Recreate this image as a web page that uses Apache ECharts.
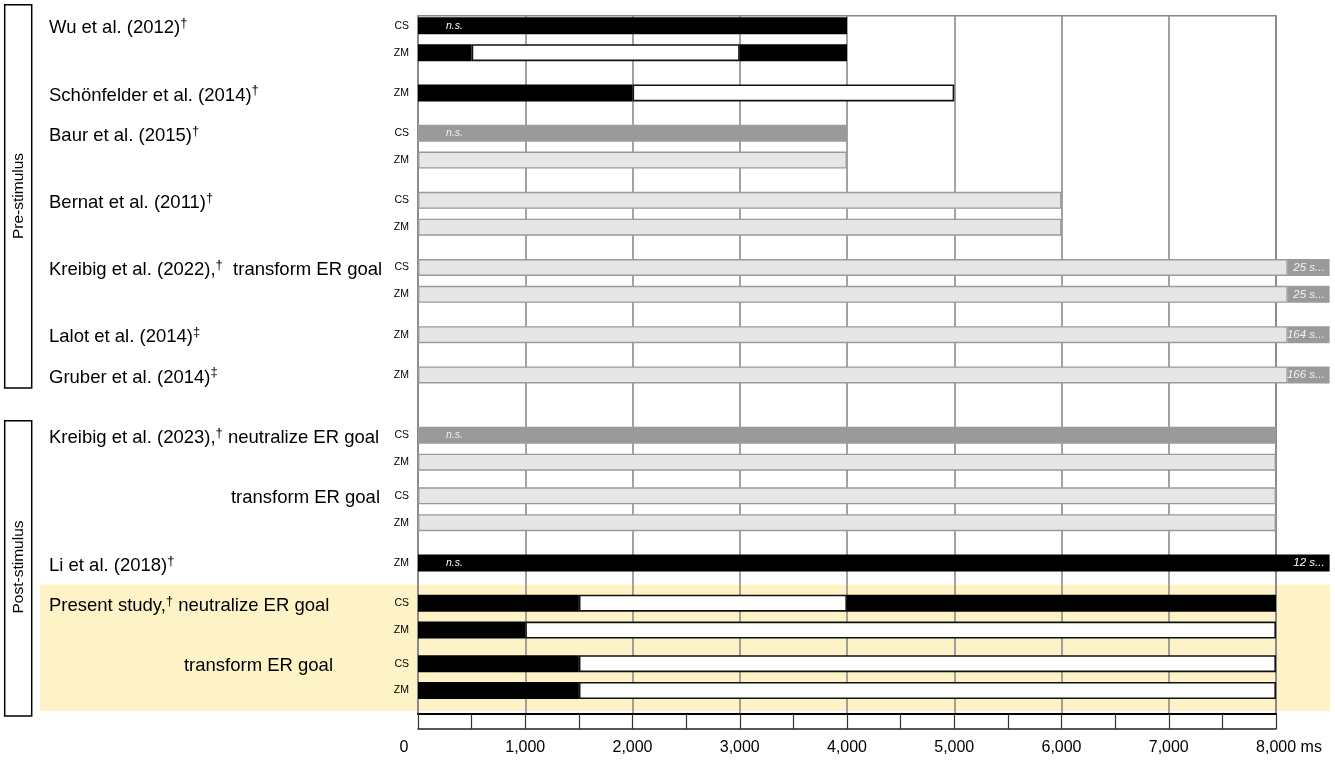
<!DOCTYPE html>
<html><head><meta charset="utf-8">
<script src="https://cdn.jsdelivr.net/npm/echarts@6/dist/echarts.min.js"></script>
<style>html,body{margin:0;padding:0;background:#fff}#c{width:1335px;height:761px}</style>
</head><body><div id="c"></div>
<script>
// ---------- data ----------
const xTicks = [0, 1000, 2000, 3000, 4000, 5000, 6000, 7000, 8000];
const condLabels = ['CS','ZM','ZM','CS','ZM','CS','ZM','CS','ZM','ZM','ZM','CS','ZM','CS','ZM','ZM','CS','ZM','CS','ZM'];
const rowStudy = ['Wu et al. (2012)','','Schönfelder et al. (2014)','Baur et al. (2015)','','Bernat et al. (2011)','','Kreibig et al. (2022),','','Lalot et al. (2014)','Gruber et al. (2014)','Kreibig et al. (2023),','','','','Li et al. (2018)','Present study,','','',''];
const rowMark = ['†','','†','†','','†','','†','','‡','‡','†','','','','†','†','','',''];
const rowGoal = ['','','','','','','','  transform ER goal','','','',' neutralize ER goal','','transform ER goal','','',' neutralize ER goal','','transform ER goal',''];
// segment end points (ms) and kinds per row
const segEnds = [
  [4000], [500, 3000, 4000], [2000, 5000], [4000], [4000], [6000], [6000],
  [8110, 8500], [8110, 8500], [8110, 8500], [8110, 8500],
  [8000], [8000], [8000], [8000], [8000, 8500],
  [1500, 4000, 8000], [1000, 8000], [1500, 8000], [1500, 8000]
];
const segKinds = [
  ['sig'], ['sig','non','sig'], ['sig','non'], ['ns'], ['na'], ['na'], ['na'],
  ['na','over'], ['na','over'], ['na','over'], ['na','over'],
  ['ns'], ['na'], ['na'], ['na'], ['sig','sig'],
  ['sig','non','sig'], ['sig','non'], ['sig','non'], ['sig','non']
];
const notes = ['n.s.','','','n.s.','','','','','','','','n.s.','','','','n.s.','','','',''];
const tails = ['','','','','','','','25 s...','25 s...','164 s...','166 s...','','','','','12 s...','','','',''];

// ---------- layout ----------
const FONT = '"Liberation Sans", Arial, Helvetica, sans-serif';
const N_SLOTS = 104;
const rowSlots = [0,4,10,16,20,26,30,36,40,46,52,61,65,70,74,80,86,90,95,99].map(s => s + 1);
const cats = Array.from({length: N_SLOTS}, (_, i) => 's' + i);
const slotRow = new Array(N_SLOTS).fill(-1);
rowSlots.forEach((s, r) => { slotRow[s] = r; });
const goalStyleOf = {13: 'gk', 18: 'gp'};

const KIND_STYLE = {
  sig:  {color: '#000000', borderWidth: 0},
  non:  {color: '#ffffff', borderColor: '#111111', borderWidth: 1.6},
  ns:   {color: '#9a9a9a', borderWidth: 0},
  na:   {color: '#e6e6e6', borderColor: '#9a9a9a', borderWidth: 1.4},
  over: {color: '#9a9a9a', borderWidth: 0}
};

const maxSeg = Math.max(...segEnds.map(e => e.length));
const series = [];
for (let k = 0; k < maxSeg; k++) {
  const data = cats.map((c, s) => {
    const r = slotRow[s];
    if (r < 0 || k >= segEnds[r].length) return '-';
    const start = k === 0 ? 0 : segEnds[r][k - 1];
    const kind = segKinds[r][k];
    const item = {value: segEnds[r][k] - start, itemStyle: KIND_STYLE[kind]};
    const light = kind === 'ns' || kind === 'over';
    if (k === 0 && notes[r]) {
      item.label = {show: true, formatter: notes[r], position: [28, '50%'], align: 'left', verticalAlign: 'middle',
        fontSize: 10.5, fontStyle: 'italic', color: light ? '#f2f2f2' : '#ffffff', fontFamily: FONT};
    }
    if (k === segEnds[r].length - 1 && tails[r]) {
      item.label = {show: true, formatter: tails[r], position: 'insideRight', distance: 5,
        fontSize: 11.5, fontStyle: 'italic', color: light ? '#f2f2f2' : '#ffffff', fontFamily: FONT};
    }
    return item;
  });
  series.push({type: 'bar', stack: 'seg', barWidth: 17, clip: false, silent: true, animation: false, data});
}

function fmt(v) { return String(v).replace(/\B(?=(\d{3})+(?!\d))/g, ','); }

const tStyle = {fontSize: 18.5, fontFamily: FONT, color: '#000', lineHeight: 22};
const option = {
  animation: false,
  grid: {left: 418, right: 59, top: 15.7, bottom: 47, show: true, borderColor: '#858585', borderWidth: 1.5, backgroundColor: 'transparent'},
  xAxis: [
    {type: 'value', min: xTicks[0], max: xTicks[xTicks.length - 1], interval: 1000,
      axisLine: {show: true, onZero: false, lineStyle: {color: '#000', width: 2}},
      axisTick: {show: false},
      splitLine: {show: true, lineStyle: {color: '#858585', width: 1.5}},
      axisLabel: {margin: 26, fontSize: 16, color: '#000', fontFamily: FONT,
        formatter: v => v === xTicks[xTicks.length - 1] ? '{p| }' + fmt(v) + ' ms' : (v === 0 ? '0{q| }' : fmt(v)),
        rich: {p: {width: 26, fontSize: 16}, q: {width: 28, fontSize: 16}}}},
    {type: 'value', min: 0, max: 8000, interval: 500, position: 'bottom', offset: 15,
      axisLine: {show: true, onZero: false, lineStyle: {color: '#222', width: 1.5}},
      axisTick: {show: true, inside: true, length: 15, lineStyle: {color: '#333', width: 1.2}},
      axisLabel: {show: false}, splitLine: {show: false}}
  ],
  yAxis: [
    {type: 'category', data: cats, inverse: true,
      axisLine: {show: false}, axisTick: {show: false}, splitLine: {show: false},
      axisLabel: {interval: 0, margin: 9, fontSize: 10.5, color: '#000', fontFamily: FONT,
        formatter: (v, i) => slotRow[i] >= 0 ? condLabels[slotRow[i]] : ''}},
    {type: 'category', data: cats, inverse: true, position: 'left',
      axisLine: {show: false}, axisTick: {show: false}, splitLine: {show: false},
      axisLabel: {interval: 0, margin: 369, align: 'left', padding: [5, 0, 0, 0],
        formatter: (v, i) => {
          const r = slotRow[i];
          if (r < 0) return '';
          if (!rowStudy[r]) return rowGoal[r] ? '{' + goalStyleOf[r] + '|' + rowGoal[r] + '}' : '';
          let s = '{t|' + rowStudy[r] + '}';
          if (rowMark[r]) s += '{d|' + rowMark[r] + '}';
          if (rowGoal[r]) s += '{t|' + rowGoal[r] + '}';
          return s;
        },
        rich: {
          t: tStyle,
          d: {fontSize: 13, fontFamily: FONT, color: '#000', lineHeight: 13, verticalAlign: 'top'},
          gk: Object.assign({}, tStyle, {width: 331, align: 'right'}),
          gp: Object.assign({}, tStyle, {width: 284, align: 'right'})
        }}}
  ],
  series
};

const chart = echarts.init(document.getElementById('c'), null, {renderer: 'canvas'});
chart.setOption(option);

const yOf = r => chart.convertToPixel({yAxisIndex: 0}, cats[rowSlots[r]]);
const bandTop = yOf(16) - 18.8, bandBottom = yOf(19) + 20.5;
chart.setOption({graphic: [
  {type: 'rect', z: -10, silent: true, shape: {x: 40, y: bandTop, width: 1290, height: bandBottom - bandTop}, style: {fill: '#fdf3c6'}},
  {type: 'rect', silent: true, shape: {x: 4.7, y: 4.7, width: 27, height: 383.3}, style: {fill: 'none', stroke: '#000', lineWidth: 1.5}},
  {type: 'text', silent: true, x: 18.5, y: 196, rotation: Math.PI / 2, style: {text: 'Pre-stimulus', fontSize: 15.5, fontFamily: FONT, fill: '#000', align: 'center', verticalAlign: 'middle'}},
  {type: 'rect', silent: true, shape: {x: 4.7, y: 420.7, width: 27, height: 295.3}, style: {fill: 'none', stroke: '#000', lineWidth: 1.5}},
  {type: 'text', silent: true, x: 18.5, y: 567, rotation: Math.PI / 2, style: {text: 'Post-stimulus', fontSize: 15.5, fontFamily: FONT, fill: '#000', align: 'center', verticalAlign: 'middle'}}
]});
</script>
</body></html>
